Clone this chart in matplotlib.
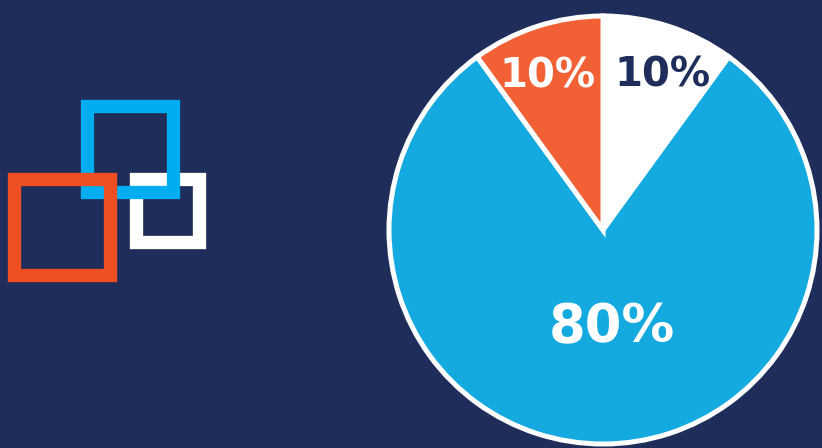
import matplotlib
matplotlib.use('Agg')
import matplotlib.pyplot as plt
import numpy as np
from matplotlib.patches import Rectangle

W, H = 822, 448
bg = '#1f2d5a'

# pie data (clockwise from 12 o'clock)
labels = ['10%', '80%', '10%']
values = [10, 80, 10]
slice_colors = ['#ffffff', '#14aae0', '#f26135']
label_colors = ['#1f2d5a', '#ffffff', '#ffffff']
label_sizes = [29, 38, 29]
# label placement: (angle deg, distance px) from pie centre
label_pos = [(69, 165), (275, 98), (110, 163)]

# decorative squares: (left, top, size, colour) in pixel space, drawn bottom->top
squares = [
  (129.5, 172.5, 76, '#ffffff'),
  (80, 99, 100, '#00aeef'),
  (7, 172, 110, '#f04e23'),
]
sq_thick = 13.3

pie_center = (603, 230)
pie_radius = 214

fig = plt.figure(figsize=(W / 100, H / 100), dpi=100, facecolor=bg)
ax = fig.add_axes([0, 0, 1, 1])
ax.set_facecolor(bg)

px = 72 / 100  # points per pixel

cx, cy = pie_center[0], H - pie_center[1]
ax.pie(values, colors=slice_colors, startangle=90, counterclock=False,
       radius=pie_radius, center=(cx, cy), frame=True,
       wedgeprops=dict(edgecolor='white', linewidth=5 * px, joinstyle='miter'))

for lab, col, fs, (ang, dist) in zip(labels, label_colors, label_sizes, label_pos):
  a = np.deg2rad(ang)
  ax.text(cx + dist * np.cos(a), cy + dist * np.sin(a), lab, color=col,
          fontsize=fs, fontweight='bold', family='DejaVu Sans',
          ha='center', va='center')

for i, (left, top, size, col) in enumerate(squares):
  half = sq_thick / 2
  r = Rectangle((left + half, H - top - size + half), size - sq_thick, size - sq_thick,
                fill=False, edgecolor=col, linewidth=sq_thick * px,
                joinstyle='miter', zorder=5 + i)
  ax.add_patch(r)

ax.set_xlim(0, W)
ax.set_ylim(0, H)
ax.set_aspect('auto')
ax.axis('off')

plt.savefig('out.png', dpi=100, facecolor=bg)
